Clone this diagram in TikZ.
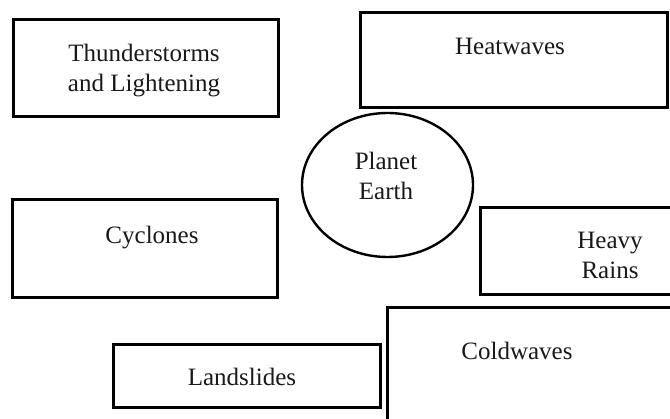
\documentclass[tikz,border=0pt]{standalone}
\usepackage{fontspec}
\setmainfont{Liberation Serif}
\usetikzlibrary{shapes.geometric}
\begin{document}
\begin{tikzpicture}[x=1pt,y=-1pt,
  box/.style={draw, line width=3pt, rectangle, inner sep=0pt, outer sep=0pt},
  earth/.style={draw, line width=2.4pt, ellipse, inner sep=0pt, outer sep=0pt},
  lbl/.style={font=\fontsize{25}{30}\selectfont, text=black!90, align=center, inner sep=0pt}
]
\useasboundingbox (0,0) rectangle (670,419);
\fill[white] (0,0) rectangle (670,419);
\clip (0,0) rectangle (670,419);
% boxes
\node[box, minimum width=265pt, minimum height=97pt] (bthunder) at (145.5,68.5) {};
\node[box, minimum width=307pt, minimum height=95pt] (bheat) at (513.5,60.5) {};
\node[earth, minimum width=171pt, minimum height=144pt] (bearth) at (387.5,185) {};
\node[box, minimum width=265pt, minimum height=98pt] (bcyc) at (144.5,249) {};
\node[box, minimum width=200pt, minimum height=87pt] (brain) at (580,251.5) {};
\node[box, minimum width=293pt, minimum height=122pt] (bcold) at (533.5,369) {};
\node[box, minimum width=267pt, minimum height=63pt] (bland) at (246.5,376.5) {};
% labels
\node[lbl] (tthunder) at (144,71) {Thunderstorms\\and Lightening};
\node[lbl] (theat) at (510,46) {Heatwaves};
\node[lbl] (tearth) at (386,176) {Planet\\Earth};
\node[lbl] (tcyc) at (152,238) {Cyclones};
\node[lbl] (train) at (610,255) {Heavy\\Rains};
\node[lbl] (tcold) at (517,351) {Coldwaves};
\node[lbl] (tland) at (242,377) {Landslides};
\end{tikzpicture}
\end{document}
